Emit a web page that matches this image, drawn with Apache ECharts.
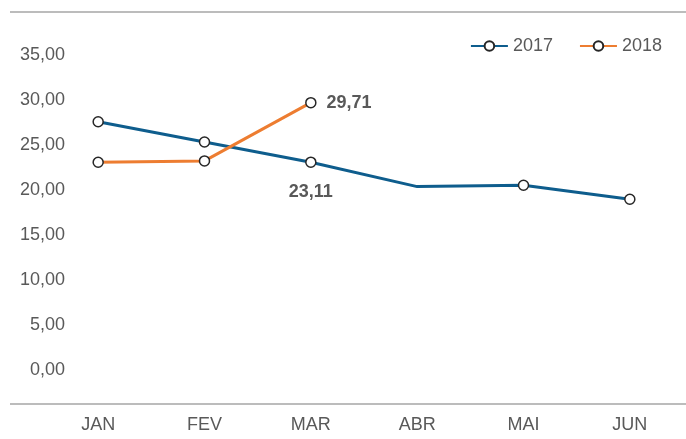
<!DOCTYPE html>
<html>
<head>
<meta charset="utf-8">
<script src="https://cdn.jsdelivr.net/npm/echarts@6/dist/echarts.min.js"></script>
<style>
html,body{margin:0;padding:0;background:#fff;}
#chart{width:686px;height:439px;}
</style>
</head>
<body>
<div id="chart"></div>
<script>
var categories = ['JAN', 'FEV', 'MAR', 'ABR', 'MAI', 'JUN'];
var values2017 = [27.6, 25.35, 23.11, 20.4, 20.55, 19.0];
var values2018 = [23.1, 23.25, 29.71];
var seriesNames = ['2017', '2018'];
var labeled2017Index = 2;
var labeled2018Index = 2;
var noMarker2017Index = 3;

var FONT = '"Liberation Sans", Arial, sans-serif';
var FS = 18;
var labelFmt = function (v) { return v.toFixed(2).replace('.', ','); };

var d2017 = values2017.map(function (v, i) {
  var item = { value: v };
  if (i === noMarker2017Index) { item.symbol = 'none'; }
  if (i === labeled2017Index) {
    item.label = { show: true, position: 'bottom', distance: 15,
      formatter: function (p) { return labelFmt(p.value); } };
  }
  return item;
});
var d2018 = values2018.map(function (v, i) {
  var item = { value: v };
  if (i === labeled2018Index) {
    item.label = { show: true, position: 'right', distance: 10,
      formatter: function (p) { return labelFmt(p.value); } };
  }
  return item;
});

var chart = echarts.init(document.getElementById('chart'));
chart.setOption({
  animation: false,
  backgroundColor: '#fff',
  textStyle: { fontFamily: FONT },
  grid: { left: 45, right: 3, top: 55, bottom: 68.5 },
  legend: {
    top: 37, right: 24, padding: 0,
    itemWidth: 37, itemHeight: 12, itemGap: 26,
    textStyle: { fontFamily: FONT, fontSize: FS, color: '#595959' },
    data: seriesNames
  },
  graphic: [
    { type: 'line', shape: { x1: 10, y1: 12, x2: 686, y2: 12 },
      style: { stroke: '#A6A6A6', lineWidth: 1.5 }, silent: true },
    { type: 'line', shape: { x1: 10, y1: 404, x2: 686, y2: 404 },
      style: { stroke: '#A6A6A6', lineWidth: 1.5 }, silent: true }
  ],
  xAxis: {
    type: 'category',
    data: categories,
    boundaryGap: true,
    axisLine: { show: false },
    axisTick: { show: false },
    splitLine: { show: false },
    axisLabel: { margin: 46, fontFamily: FONT, fontSize: FS, color: '#595959' }
  },
  yAxis: {
    type: 'value',
    min: 0, max: 35, interval: 5,
    offset: -28,
    axisLine: { show: false },
    axisTick: { show: false },
    splitLine: { show: false },
    axisLabel: { margin: 8, fontFamily: FONT, fontSize: FS, color: '#595959',
      formatter: function (v) { return labelFmt(v); } }
  },
  series: [
    {
      name: seriesNames[0], type: 'line', data: d2017,
      symbol: 'circle', symbolSize: 10, showAllSymbol: true,
      lineStyle: { color: '#0E5D8D', width: 3 },
      itemStyle: { color: '#fff', borderColor: '#262626', borderWidth: 1.5 },
      label: { fontFamily: FONT, fontSize: FS, fontWeight: 'bold', color: '#595959' },
      z: 3
    },
    {
      name: seriesNames[1], type: 'line', data: d2018,
      symbol: 'circle', symbolSize: 10, showAllSymbol: true,
      lineStyle: { color: '#ED7D31', width: 3 },
      itemStyle: { color: '#fff', borderColor: '#262626', borderWidth: 1.5 },
      label: { fontFamily: FONT, fontSize: FS, fontWeight: 'bold', color: '#595959' },
      z: 4
    }
  ]
});
</script>
</body>
</html>
